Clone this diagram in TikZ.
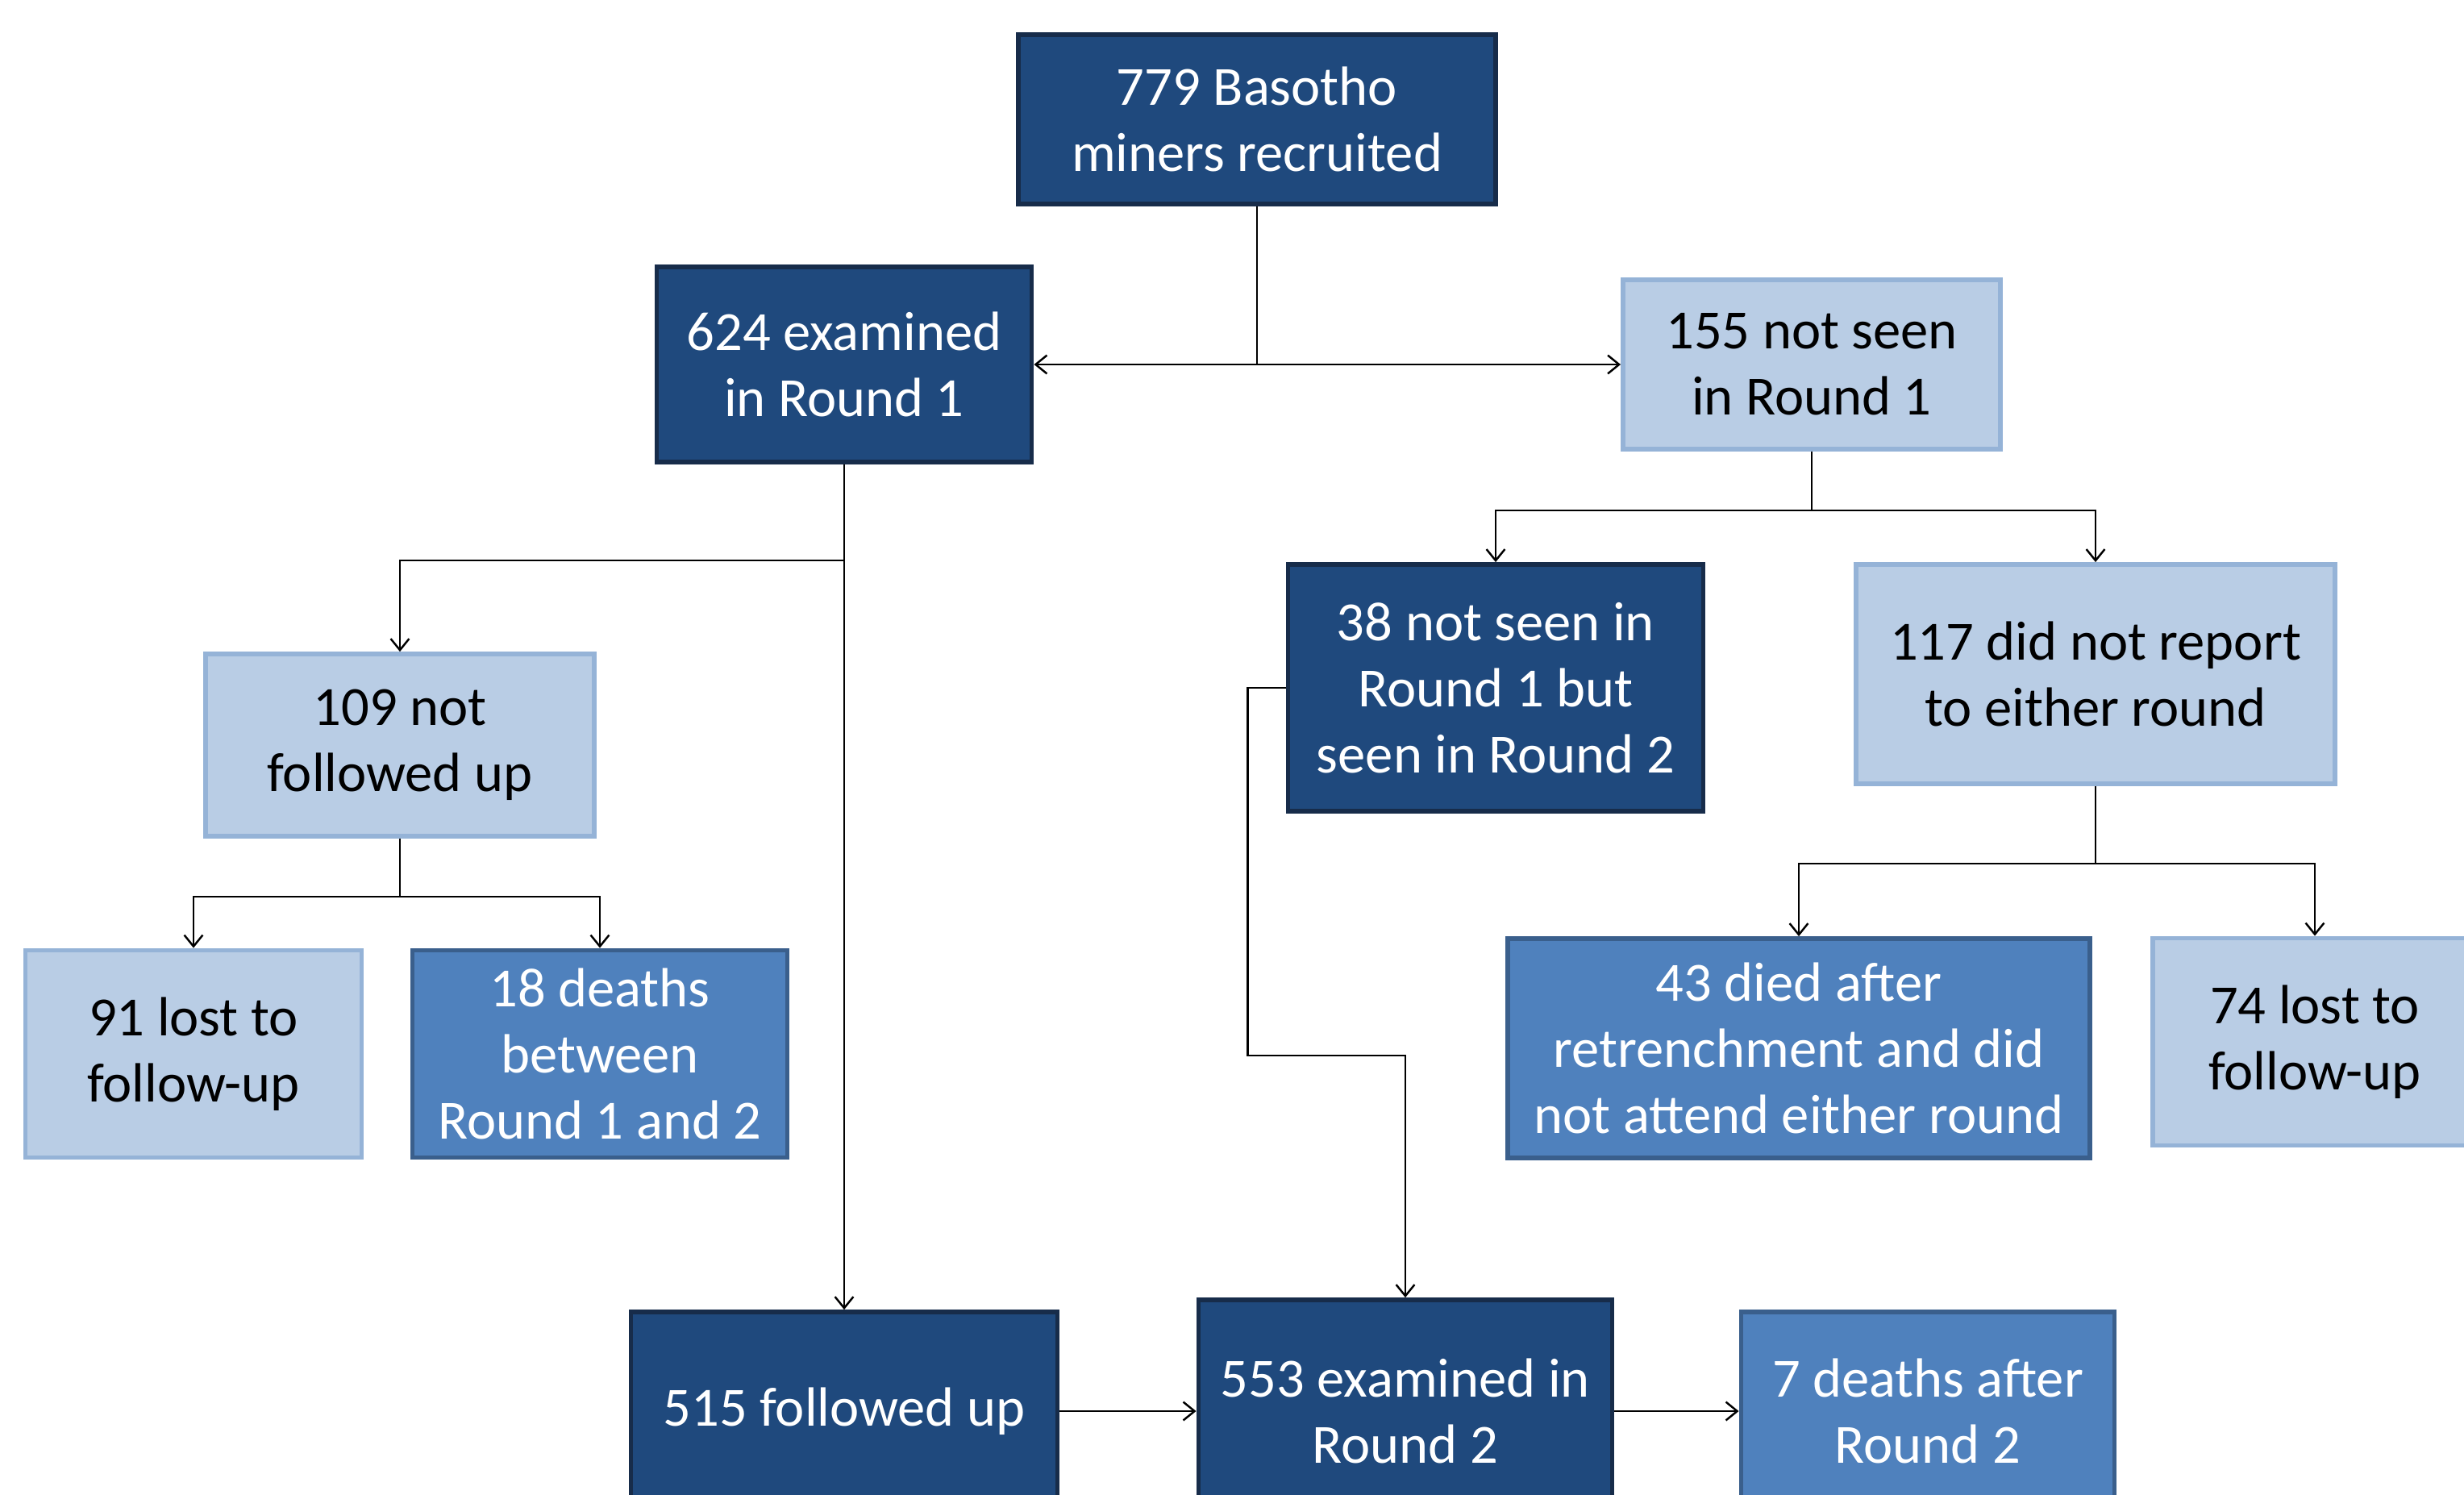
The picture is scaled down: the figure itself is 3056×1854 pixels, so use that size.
\documentclass[tikz,border=0pt]{standalone}
\usepackage{fontspec}
\setmainfont{Carlito}
\usepackage{xcolor}
\usepackage{tikz}
\usetikzlibrary{
  arrows.meta,
  positioning,
  calc
}
\definecolor{FlowDark}{HTML}{1F497D}
\definecolor{FlowDarkEdge}{HTML}{172C4A}
\definecolor{FlowMid}{HTML}{4F81BD}
\definecolor{FlowMidEdge}{HTML}{3A5F8C}
\definecolor{FlowLight}{HTML}{B9CDE5}
\definecolor{FlowLightEdge}{HTML}{95B3D7}
\tikzset{
  flowbox/.style={rectangle,line width=1.6pt,inner sep=0pt,align=center,
    font=\fontsize{19.5}{23.4}\selectfont},
  darkbox/.style={flowbox,fill=FlowDark,draw=FlowDarkEdge,text=white},
  midbox/.style={flowbox,fill=FlowMid,draw=FlowMidEdge,text=white},
  lightbox/.style={flowbox,fill=FlowLight,draw=FlowLightEdge,text=black},
  arr/.style={-{Straight Barb[length=4pt,width=6.5pt]},line width=0.7pt,black}
}

\begin{document}
\begin{tikzpicture}[x=0.01cm,y=-0.01cm]
  \useasboundingbox (0,0) rectangle (3056,1854);

  \node[darkbox,minimum width=5.92cm,minimum height=2.10cm] (recruited) at (1559,148)
    {779 Basotho\\miners recruited};
  \node[darkbox,minimum width=4.65cm,minimum height=2.42cm] (examinedA) at (1047,452)
    {624 examined\\in Round 1};
  \node[lightbox,minimum width=4.68cm,minimum height=2.10cm] (notseenA) at (2247,452)
    {155 not seen\\in Round 1};
  \node[darkbox,minimum width=5.15cm,minimum height=3.06cm] (seenB) at (1855,853)
    {38 not seen in\\Round 1 but\\seen in Round 2};
  \node[lightbox,minimum width=5.94cm,minimum height=2.72cm] (noreport) at (2599,836)
    {117 did not report\\to either round};
  \node[lightbox,minimum width=4.82cm,minimum height=2.26cm] (notfollowed) at (496,924)
    {109 not\\followed up};
  \node[lightbox,minimum width=4.17cm,minimum height=2.57cm] (lostA) at (240,1307)
    {91 lost to\\follow-up};
  \node[midbox,minimum width=4.65cm,minimum height=2.57cm] (deathsA) at (744,1307)
    {18 deaths\\between\\Round 1 and 2};
  \node[midbox,minimum width=7.21cm,minimum height=2.72cm] (diedRetr) at (2231,1300)
    {43 died after\\retrenchment and did\\not attend either round};
  \node[lightbox,minimum width=4.02cm,minimum height=2.57cm] (lostB) at (2871,1292)
    {74 lost to\\follow-up};
  \node[darkbox,minimum width=5.29cm,minimum height=2.46cm] (followed) at (1047,1750)
    {515 followed up};
  \node[darkbox,minimum width=5.13cm,minimum height=2.76cm] (examinedB) at (1743,1750)
    {553 examined in\\Round 2};
  \node[midbox,minimum width=4.63cm,minimum height=2.46cm] (deathsB) at (2391,1750)
    {7 deaths after\\Round 2};

  \draw[arr] (recruited.south) |- (examinedA.east);
  \draw[arr] (recruited.south) |- (notseenA.west);
  \draw[arr] (examinedA.south) -- ++(0,119) -| (notfollowed.north);
  \draw[arr] (examinedA.south) -- (followed.north);
  \draw[arr] (notfollowed.south) -- ++(0,72) -| (lostA.north);
  \draw[arr] (notfollowed.south) -- ++(0,72) -| (deathsA.north);
  \draw[arr] (notseenA.south) -- ++(0,73) -| (seenB.north);
  \draw[arr] (notseenA.south) -- ++(0,73) -| (noreport.north);
  \draw[arr] (noreport.south) -- ++(0,96) -| (diedRetr.north);
  \draw[arr] (noreport.south) -- ++(0,96) -| (lostB.north);
  \draw[arr] (seenB.west) -- ++(-47,0) -- ++(0,456) -| (examinedB.north);
  \draw[arr] (followed.east) -- (examinedB.west);
  \draw[arr] (examinedB.east) -- (deathsB.west);
\end{tikzpicture}
\end{document}
